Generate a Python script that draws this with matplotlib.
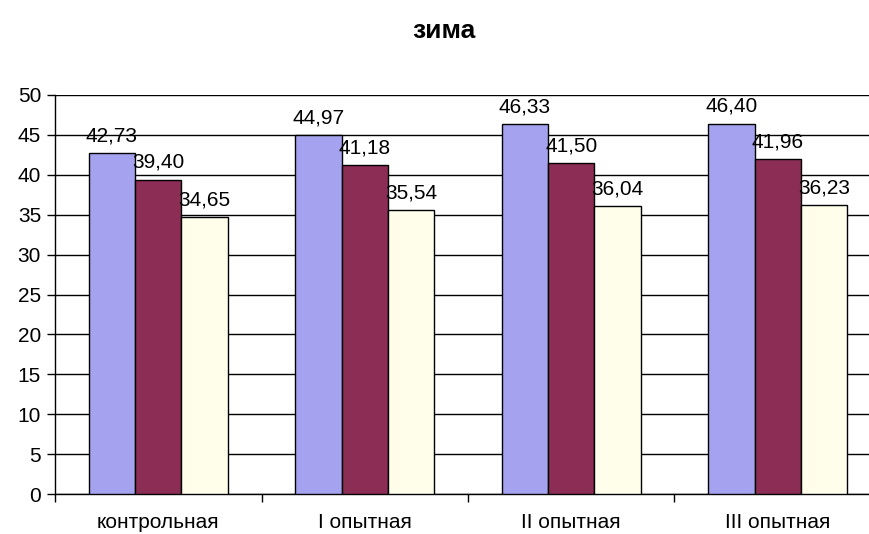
import matplotlib.pyplot as plt
import numpy as np

plt.rcParams['font.family'] = ['Liberation Sans', 'DejaVu Sans']

# группы и значения по трём показателям
groups = ['контрольная', 'I опытная', 'II опытная', 'III опытная']
series_1 = [42.73, 44.97, 46.33, 46.40]
series_2 = [39.40, 41.18, 41.50, 41.96]
series_3 = [34.65, 35.54, 36.04, 36.23]
colors = ['#A5A3EF', '#8B2D55', '#FEFEEA']

fig = plt.figure(figsize=(8.69, 5.34), dpi=100)
ax = fig.add_axes([0.0633, 0.0749, 0.9505, 0.7472])

x = np.arange(len(groups))
w = 0.225
for k, (vals, c) in enumerate(zip([series_1, series_2, series_3], colors)):
    pos = x + (k - 1) * w
    ax.bar(pos, vals, width=w, color=c, edgecolor='black', linewidth=1, zorder=3)
    for px, v in zip(pos, vals):
        ax.annotate(('%.2f' % v).replace('.', ','), (px, v), xytext=(0, 8.5),
                    textcoords='offset points', ha='center', va='baseline',
                    fontsize=15, zorder=4)

ax.set_ylim(0, 50)
ax.set_xlim(-0.5, len(groups) - 0.5)
ax.set_yticks(np.arange(0, 51, 5))
ax.yaxis.grid(True, color='black', linewidth=1, zorder=0)
ax.tick_params(axis='y', labelsize=15, length=6, width=1, direction='out', pad=4)

# деления между группами, подписи по центрам групп
ax.set_xticks(np.arange(-0.5, len(groups), 1.0))
ax.set_xticklabels([])
ax.tick_params(axis='x', which='major', length=6, width=1, direction='out')
ax.set_xticks(x, minor=True)
ax.set_xticklabels(groups, minor=True, fontsize=15)
ax.tick_params(axis='x', which='minor', length=0, pad=14)

for s in ['top', 'right']:
    ax.spines[s].set_visible(False)
ax.spines['left'].set_linewidth(1)
ax.spines['bottom'].set_linewidth(1)

fig.text(0.511, 0.942, 'зима', ha='center', va='center', fontsize=19, fontweight='bold')

fig.savefig('out.png', dpi=100)
